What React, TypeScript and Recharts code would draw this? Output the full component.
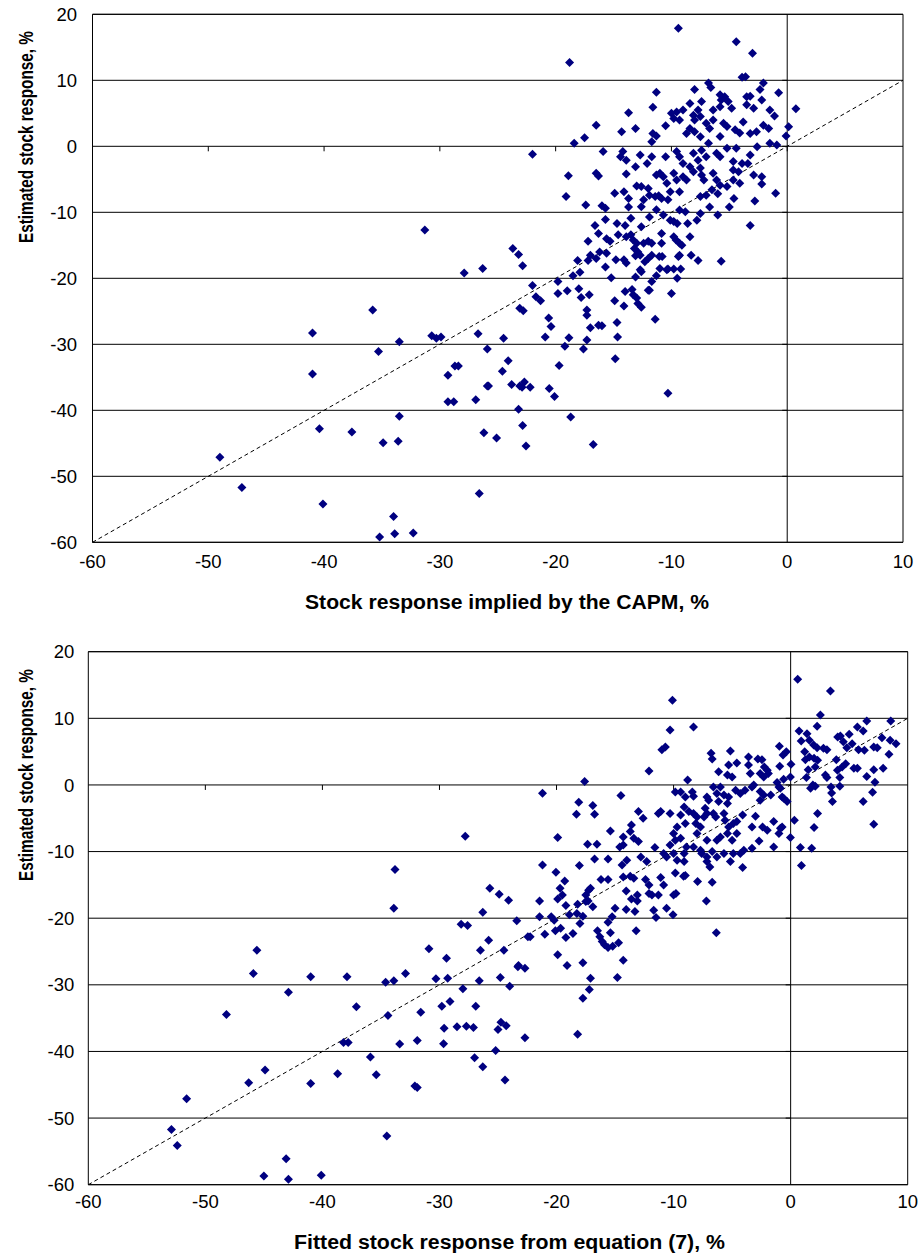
import { ScatterChart, Scatter, XAxis, YAxis, CartesianGrid, ReferenceLine, ReferenceArea } from "recharts"

const FONT = "Arial, 'Liberation Sans', Helvetica, sans-serif"
const NAVY = "#000080"

const xTicks = [-60, -50, -40, -30, -20, -10, 0, 10]
const yTicks = [-60, -50, -40, -30, -20, -10, 0, 10, 20]
const fortyFive = [-60, 10]

// top panel: [CAPM-implied response, estimated response]
const capmPoints: [number, number][] = [
  [-31.3, -12.7], [-27.9, -19.2], [-26.3, -18.5], [-35.8, -24.8], [-41.0, -28.3], [-33.5, -29.6], [-35.3, -31.1],
  [-30.7, -28.7], [-30.3, -29.1], [-29.9, -28.9], [-26.7, -28.4], [-25.9, -30.7], [-41.0, -34.5], [-29.3, -34.7],
  [-28.7, -33.3], [-28.4, -33.3], [-25.9, -36.3], [-26.9, -38.4], [-29.3, -38.7], [-28.8, -38.7], [-33.5, -40.9],
  [-40.4, -42.8], [-37.6, -43.3], [-34.9, -44.9], [-33.6, -44.7], [-26.2, -43.4], [-25.1, -44.2], [-49.0, -47.1],
  [-47.1, -51.7], [-40.1, -54.2], [-26.6, -52.6], [-34.0, -56.1], [-35.2, -59.2], [-33.9, -58.7], [-32.3, -58.6],
  [-19.1, -7.6], [-17.4, -8.9], [-16.0, -9.0], [-15.7, -9.4], [-14.9, -7.1], [-14.1, -6.9], [-13.7, -7.9],
  [-13.7, -9.2], [-13.5, -10.9], [-15.7, -11.1], [-16.6, -12.0], [-16.3, -13.2], [-17.2, -14.4], [-14.7, -11.7],
  [-14.0, -12.0], [-14.6, -13.4], [-13.9, -13.7], [-15.6, -14.0], [-15.3, -14.4], [-16.2, -16.0], [-15.6, -16.2],
  [-17.0, -16.5], [-16.5, -17.0], [-18.1, -17.3], [-17.2, -17.3], [-17.9, -19.1], [-18.5, -19.6], [-15.7, -18.3],
  [-15.2, -19.9], [-14.8, -17.2], [-14.1, -17.2], [-13.9, -17.7], [-13.5, -13.4], [-13.3, -14.2], [-13.0, -14.7],
  [-13.2, -15.5], [-12.9, -16.0], [-12.7, -16.5], [-12.4, -14.7], [-12.0, -14.4], [-11.7, -14.7], [-13.1, -16.6],
  [-12.3, -17.5], [-12.0, -17.0], [-11.7, -16.5], [-12.7, -18.7], [-12.6, -19.0], [-13.1, -19.8], [-11.7, -20.5],
  [-11.9, -21.8], [-11.3, -19.6], [-11.0, -18.5], [-11.05, -16.7], [-10.8, -16.7], [-10.85, -14.7], [-10.4, -18.7],
  [-10.3, -18.6], [-9.8, -18.6], [-9.2, -18.6], [-9.5, -20.0], [-10.0, -22.3], [-9.4, -16.7], [-9.3, -16.5],
  [-8.3, -16.5], [-7.7, -17.3], [-5.7, -17.4], [-9.8, -13.7], [-9.6, -14.2], [-9.3, -14.7], [-9.1, -15.0],
  [-8.4, -13.7], [-8.6, -11.7], [-7.8, -11.2], [-7.5, -10.2], [-6.0, -10.4], [-3.2, -12.0], [-2.8, -8.3],
  [-1.0, -7.1], [-4.6, -7.9], [-5.0, -9.2], [-6.7, -9.2], [-10.1, -11.2], [-9.8, -11.4], [-9.5, -11.7],
  [-10.85, -13.2], [-11.9, -10.7], [-11.3, -9.6], [-12.6, -12.2], [-10.7, -10.4], [-9.3, -9.65], [-8.8, -9.9],
  [-11.4, -7.6], [-10.85, -7.9], [-10.3, -8.1], [-12.4, -8.1], [-12.6, -9.15], [-11.9, -7.4], [-11.1, -7.5],
  [-10.1, -6.9], [-9.3, -6.9], [-7.5, -7.6], [-7.0, -7.4], [-6.0, -7.2],
  [-22.0, -21.1], [-21.7, -22.8], [-21.3, -23.4], [-19.8, -20.5], [-19.8, -22.3], [-19.0, -21.9], [-18.0, -21.6],
  [-17.8, -22.9], [-17.1, -22.5], [-14.9, -23.4], [-14.1, -24.2], [-14.0, -22.0], [-13.4, -21.7], [-13.3, -22.5],
  [-13.0, -23.0], [-12.9, -23.8], [-12.6, -24.4], [-12.0, -21.8], [-11.4, -26.2], [-23.7, -15.5], [-23.2, -16.4],
  [-22.85, -18.1], [-23.1, -24.55], [-22.8, -24.9], [-20.6, -26.0], [-20.4, -27.3], [-20.9, -28.9], [-18.85, -29.0],
  [-19.2, -30.3], [-17.3, -24.8], [-17.3, -25.6], [-17.0, -27.5], [-16.3, -27.1], [-16.0, -27.2], [-17.3, -29.35],
  [-17.6, -30.7], [-14.7, -26.7], [-14.65, -28.9], [-14.85, -32.2], [-24.5, -29.1], [-24.1, -32.5], [-24.6, -34.1],
  [-19.7, -33.2], [-25.8, -36.3], [-23.8, -36.1], [-23.1, -36.3], [-22.7, -35.7], [-22.9, -36.5], [-22.2, -36.5],
  [-20.55, -36.7], [-20.1, -37.9], [-10.3, -37.4], [-23.2, -39.85], [-22.85, -42.3], [-22.56, -45.4], [-18.7, -41.0],
  [-16.75, -45.2], [-22.0, -1.2],
  [-9.4, 17.9], [-18.8, 12.7], [-4.4, 15.85], [-3.0, 14.1], [-3.9, 10.45], [-3.6, 10.55], [-6.8, 9.6],
  [-6.6, 8.9], [-8.0, 8.6], [-11.3, 8.2], [-11.6, 5.9], [-13.7, 5.1], [-16.5, 3.2], [-17.5, 1.3],
  [-18.4, 0.45], [-13.1, 2.7], [-14.3, 2.2], [-11.6, 1.95], [-11.3, 1.55], [-11.7, 0.7], [-10.5, 3.1],
  [-10.0, 5.0], [-9.55, 5.2], [-9.0, 5.5], [-8.4, 6.5], [-9.8, 4.2], [-9.3, 4.0], [-8.1, 4.7],
  [-7.7, 5.5], [-7.4, 6.8], [-8.7, 1.95], [-8.4, 2.7], [-8.0, 2.2], [-8.0, 4.0], [-7.5, 4.5],
  [-6.4, 5.5], [-5.8, 6.0], [-5.7, 7.0], [-5.4, 7.5], [-5.1, 6.8], [-5.8, 7.8], [-7.0, 3.5],
  [-6.7, 2.7], [-6.4, 4.0], [-5.5, 3.5], [-5.2, 3.0], [-5.8, 1.5], [-4.8, 5.75], [-4.5, 2.5],
  [-4.1, 2.0], [-3.8, 3.7], [-3.5, 7.5], [-3.2, 7.6], [-3.5, 6.3], [-2.9, 5.75], [-2.35, 8.6],
  [-2.06, 9.6], [-2.2, 7.0], [-0.74, 8.1], [-1.5, 5.5], [-1.1, 4.6], [-2.06, 3.2], [-1.6, 2.7],
  [-3.2, 1.95], [-2.65, 2.2], [0.12, 2.95], [0.75, 5.7], [-0.1, 1.55], [-1.5, 0.45], [-0.9, 0.2],
  [-2.6, -0.05], [-3.2, -1.3], [-3.4, -2.6], [-2.9, -4.35], [-2.2, -4.6], [-2.2, -5.7], [-4.4, -0.3],
  [-3.9, -2.6], [-4.66, -2.3], [-5.2, -0.3], [-6.1, -1.05], [-5.8, -1.6], [-7.0, -1.6], [-7.4, -0.6],
  [-6.8, 0.45], [-7.5, 1.45], [-8.1, -1.05], [-7.7, -2.1], [-8.4, -3.1], [-7.5, -3.3], [-9.0, -2.6],
  [-9.3, -1.6], [-9.55, -0.8], [-10.5, -1.6], [-11.7, -1.6], [-12.1, -2.6], [-12.7, -1.3], [-13.1, -3.1],
  [-13.9, -4.2], [-14.4, -1.6], [-14.2, -0.8], [-13.9, -2.1], [-15.9, -0.8], [-18.9, -4.45], [-16.5, -4.1],
  [-16.3, -4.5], [-13.0, -6.0], [-12.6, -6.1], [-12.0, -6.4], [-11.3, -4.35], [-11.0, -4.1], [-10.7, -4.6],
  [-10.4, -5.6], [-9.8, -4.1], [-9.55, -5.1], [-9.0, -4.6], [-8.7, -5.1], [-8.1, -3.85], [-7.4, -4.35],
  [-7.2, -5.1], [-6.4, -4.1], [-6.1, -5.1], [-5.8, -5.9], [-6.5, -6.6], [-5.2, -6.1], [-4.66, -5.1],
  [-4.1, -5.6], [-4.66, -3.6], [-4.2, -3.85],
]

// bottom panel: [fitted response from equation (7), estimated response]
const fittedPoints: [number, number][] = [
  [-27.8, -7.7], [-33.8, -12.7], [-33.9, -18.5], [-25.7, -15.5], [-24.9, -16.4], [-24.1, -17.3], [-26.3, -19.1],
  [-23.4, -20.4], [-28.15, -20.9], [-27.6, -21.1], [-25.8, -23.3], [-26.5, -24.8], [-24.5, -24.8], [-23.3, -27.3],
  [-30.9, -24.6], [-29.4, -26.0], [-30.3, -29.1], [-29.3, -29.0], [-26.6, -29.4], [-24.8, -28.9], [-24.0, -30.2],
  [-28.0, -30.6], [-29.8, -33.2], [-29.1, -32.5], [-26.9, -33.2], [-31.6, -34.1], [-29.6, -36.5], [-28.5, -36.3],
  [-27.7, -36.2], [-27.1, -36.4], [-29.65, -38.85], [-25.0, -36.7], [-24.75, -35.6], [-24.3, -36.15], [-25.2, -39.85],
  [-27.0, -40.95], [-26.3, -42.3], [-24.4, -44.3], [-31.9, -38.35], [-33.4, -38.9], [-32.9, -28.3], [-34.6, -29.6],
  [-33.9, -29.4], [-34.4, -34.6], [-37.1, -33.3], [-38.2, -38.65], [-37.8, -38.65], [-35.9, -40.85], [-35.4, -43.5],
  [-38.7, -43.35], [-32.1, -45.2], [-31.9, -45.4], [-41.0, -28.8], [-37.9, -28.8], [-42.9, -31.1], [-45.6, -24.8],
  [-45.9, -28.3], [-48.2, -34.45], [-44.9, -42.8], [-46.3, -44.7], [-41.0, -44.8], [-51.6, -47.1], [-52.9, -51.7],
  [-52.4, -54.1], [-34.5, -52.7], [-43.1, -56.1], [-45.0, -58.7], [-42.9, -59.2], [-40.1, -58.6],
  [-21.2, -1.26], [-19.9, -7.9], [-21.2, -12.0], [-20.05, -13.1], [-19.3, -14.4], [-19.7, -15.5], [-19.5, -16.5],
  [-19.9, -17.1], [-19.2, -18.1], [-21.45, -17.4], [-20.45, -19.8], [-20.2, -20.3], [-21.0, -22.4], [-20.1, -21.9],
  [-19.65, -21.5], [-19.2, -22.9], [-18.6, -22.3], [-18.9, -19.5], [-18.26, -19.3], [-18.2, -17.9], [-18.0, -20.8],
  [-17.75, -19.7], [-17.5, -16.5], [-17.26, -15.8], [-17.1, -15.5], [-17.5, -17.5], [-17.3, -17.4], [-16.9, -18.3],
  [-16.2, -14.2], [-15.6, -14.2], [-16.5, -21.9], [-16.3, -22.8], [-16.1, -23.5], [-15.9, -24.0], [-15.6, -24.4],
  [-15.2, -24.2], [-15.4, -22.2], [-14.7, -23.7], [-15.6, -20.6], [-15.25, -19.8], [-15.0, -18.5], [-14.05, -18.7],
  [-14.05, -15.9], [-13.6, -17.1], [-13.1, -16.5], [-13.1, -17.4], [-13.3, -19.0], [-13.2, -21.9], [-14.3, -26.3],
  [-14.8, -28.9], [-14.3, -13.8], [-13.7, -13.7], [-13.4, -14.0], [-12.4, -14.2], [-12.1, -15.0], [-12.1, -16.3],
  [-11.85, -16.5], [-11.3, -16.5], [-11.7, -18.8], [-11.5, -19.9], [-11.1, -13.9], [-10.85, -15.0], [-10.6, -18.5],
  [-10.05, -19.5], [-10.0, -16.5], [-9.8, -16.3], [-9.85, -13.2], [-9.15, -13.7], [-9.0, -13.6], [-7.95, -14.5],
  [-7.2, -17.4], [-6.7, -14.6], [-6.35, -22.2], [-6.9, -12.3],
  [-22.45, -22.8], [-22.25, -22.8], [-21.45, -19.8], [-23.25, -27.1], [-22.7, -27.5], [-19.9, -25.5], [-19.1, -27.1],
  [-17.75, -26.7], [-17.1, -29.0], [-17.2, -30.7], [-17.75, -32.0], [-22.7, -37.95], [-18.2, -37.4],
  [0.6, 15.85], [3.4, 14.1], [-10.1, 12.7], [2.54, 10.5], [2.26, 8.8], [6.5, 9.6], [8.55, 9.6],
  [-8.3, 8.7], [-10.3, 8.25], [-11.0, 5.3], [-10.7, 5.7], [-12.1, 2.1], [-17.6, 0.5], [-14.5, -1.6],
  [-18.1, -2.6], [-18.3, -4.4], [-16.9, -3.1], [-16.75, -4.4], [-15.4, -6.9], [-17.35, -8.9], [-16.55, -8.9],
  [-18.05, -12.1], [-16.75, -11.1], [-15.6, -11.1],
  [0.72, 8.1], [1.4, 7.7], [0.9, 6.6], [1.6, 6.7], [1.97, 6.0], [2.26, 5.6], [2.8, 5.5],
  [3.1, 5.3], [1.2, 5.0], [1.26, 3.8], [1.6, 4.2], [2.0, 4.0], [2.3, 3.7], [1.5, 2.3],
  [2.1, 2.7], [1.35, 1.1], [2.97, 1.5], [3.1, 1.1], [1.9, 0.0], [2.1, -0.2], [1.7, -0.5],
  [3.45, -0.3], [3.5, -1.2], [3.57, -2.5], [4.2, -0.2], [4.2, 1.1], [3.9, 3.8], [4.0, 2.2],
  [4.4, 2.7], [4.7, 3.2], [4.02, 7.2], [4.25, 7.35], [4.5, 6.5], [4.8, 5.6], [5.0, 7.6],
  [5.25, 6.2], [5.7, 8.7], [6.2, 8.1], [5.8, 5.3], [6.3, 5.2], [5.4, 2.5], [5.7, 2.5],
  [6.5, 1.25], [7.1, 5.7], [7.4, 5.6], [7.8, 7.1], [8.5, 6.7], [9.0, 6.2], [8.4, 4.6],
  [7.9, 2.5], [7.1, 2.3], [7.2, 0.4], [7.0, -1.1], [6.2, -2.5], [7.1, -5.9], [2.3, -4.3],
  [2.0, -6.4], [0.83, -9.4], [1.8, -9.5], [0.92, -12.1], [0.32, -5.3], [-0.02, -7.9],
  [-0.96, 5.8], [-0.65, 4.5], [-0.37, 5.0], [0.03, 3.1], [-0.93, 2.8], [-0.02, 1.2], [-0.6, 0.85],
  [-1.16, 0.35], [-0.88, -0.5], [-0.6, -2.0], [-0.3, -2.5], [-1.45, -5.5], [-0.73, -6.3], [-1.0, -7.3],
  [-0.87, -6.5], [-1.45, -9.3],
  [-2.8, 3.9], [-2.45, 3.8], [-2.25, 2.7], [-2.0, 2.2], [-1.9, 1.7], [-2.6, 1.7], [-2.3, 1.2],
  [-3.6, 4.2], [-3.6, 3.0], [-3.45, 1.7], [-4.6, 3.3], [-5.3, 3.0], [-5.15, 5.1], [-6.8, 4.75],
  [-6.7, 3.9], [-5.4, 1.5], [-5.0, 1.2], [-6.15, 2.0], [-3.15, 0.0], [-3.3, -0.3], [-3.9, -0.8],
  [-4.3, -1.3], [-2.6, -1.0], [-2.3, -1.5], [-1.7, -1.5], [-2.6, -2.3], [-1.0, -0.3], [-0.73, -1.8],
  [-3.0, -4.7], [-3.3, -6.3], [-2.4, -6.3], [-2.0, -6.8], [-2.7, -8.4], [-3.3, -9.5],
  [-4.0, -9.8], [-4.3, -10.3], [-4.1, -12.4], [-5.15, -11.5], [-4.9, -10.3], [-4.7, -0.8], [-5.3, -1.8],
  [-5.7, -1.5], [-6.3, -1.3], [-6.6, -0.3], [-6.0, -0.3], [-7.15, -1.8], [-7.0, -2.3], [-6.15, -2.5],
  [-5.4, -2.8], [-8.3, -1.7], [-8.4, -1.05], [-9.0, -1.8], [-9.4, -1.05], [-9.85, -1.05], [-8.8, 0.75],
  [-9.1, -3.3], [-8.7, -4.0], [-8.3, -4.3], [-8.0, -4.8], [-7.3, -3.5], [-7.15, -4.3], [-7.4, -4.8],
  [-6.6, -4.3], [-6.4, -4.8], [-5.7, -4.3], [-5.6, -5.3], [-5.3, -6.3], [-4.9, -5.8], [-4.6, -5.5],
  [-4.1, -4.5], [-9.4, -4.5], [-9.0, -5.8], [-8.1, -5.8], [-8.0, -7.3], [-7.7, -6.3], [-9.7, -6.3],
  [-10.0, -7.3], [-9.85, -8.3], [-9.4, -8.0], [-11.1, -4.0], [-10.3, -4.3], [-11.3, -4.3], [-13.0, -4.0],
  [-12.6, -5.0], [-13.6, -6.0], [-13.7, -7.0], [-14.3, -7.8], [-14.6, -9.3], [-14.3, -9.0], [-13.4, -8.0],
  [-13.0, -8.5], [-11.6, -9.4], [-10.85, -10.3], [-10.3, -9.0], [-10.0, -10.3], [-8.9, -9.3], [-9.1, -10.3],
  [-8.3, -9.3], [-7.7, -9.8], [-7.15, -8.3], [-6.3, -8.3], [-6.0, -7.8], [-5.4, -7.3], [-5.0, -8.3],
  [-4.6, -7.3], [-7.6, -10.3], [-7.15, -10.8], [-6.7, -10.0], [-6.3, -10.8], [-5.7, -10.3], [-14.0, -11.3],
  [-14.4, -12.0], [-12.8, -10.8], [-12.3, -11.5], [-10.6, -10.8], [-9.7, -11.3], [-9.1, -11.5], [-7.15, -11.5],
]

const yTitle = "Estimated stock response, %"
const topXTitle = "Stock response implied by the CAPM, %"
const bottomXTitle = "Fitted stock response from equation (7), %"

const Diamond = (props: any) => {
  const { cx, cy } = props
  if (cx == null || cy == null) return null
  const r = 4.5
  return <path d={`M${cx} ${cy - r}L${cx + r} ${cy}L${cx} ${cy + r}L${cx - r} ${cy}Z`} fill={NAVY} />
}

const Title = ({ px, py, len, text, vertical }: any) => (
  <text
    x={px}
    y={py}
    textAnchor="middle"
    fontFamily={FONT}
    fontWeight="bold"
    fontSize={20}
    fill="#000"
    textLength={len}
    lengthAdjust="spacingAndGlyphs"
    transform={vertical ? `rotate(-90 ${px} ${py})` : undefined}
  >
    {text}
  </text>
)

type PanelProps = {
  points: [number, number][]
  xTitle: string
  top: number
  plotLeft: number
  plotRight: number
  plotTop: number
  plotBottom: number
  yGap: number
  xGap: number
  xTitlePos: [number, number, number]
  yTitlePos: [number, number, number]
}

const W = 919
const H = 628

function Panel(p: PanelProps) {
  const data = p.points.map(([x, y]) => ({ x, y }))
  const plotW = p.plotRight - p.plotLeft
  const plotH = p.plotBottom - p.plotTop
  const axisH = 70
  // 5px tick marks on the crossing axes, expressed in data units
  const xTickLen = (5 * 80) / plotH
  const yTickLen = (5 * 70) / plotW
  return (
    <div style={{ position: "absolute", left: 0, top: p.top }}>
      <ScatterChart
        width={W}
        height={H}
        margin={{ top: p.plotTop, right: W - p.plotRight, left: 0, bottom: H - p.plotBottom - axisH }}
      >
        <CartesianGrid horizontal vertical={false} stroke="#000" strokeWidth={1} />
        <XAxis
          type="number"
          dataKey="x"
          domain={[-60, 10]}
          ticks={xTicks}
          interval={0}
          axisLine={false}
          tickLine={false}
          tickSize={0}
          tickMargin={p.xGap}
          height={axisH}
          tick={{ fill: "#000", fontSize: 18.5, fontFamily: FONT }}
          label={<Title px={p.xTitlePos[0]} py={p.xTitlePos[1]} len={p.xTitlePos[2]} text={p.xTitle} />}
        />
        <YAxis
          type="number"
          dataKey="y"
          domain={[-60, 20]}
          ticks={yTicks}
          interval={0}
          axisLine={false}
          tickLine={false}
          tickSize={0}
          tickMargin={p.yGap}
          width={p.plotLeft}
          tick={{ fill: "#000", fontSize: 18.5, fontFamily: FONT }}
          label={<Title px={p.yTitlePos[0]} py={p.yTitlePos[1]} len={p.yTitlePos[2]} text={yTitle} vertical />}
        />
        <ReferenceArea x1={-60} x2={10} y1={-60} y2={20} fill="none" stroke="#000" strokeWidth={1} fillOpacity={0} />
        <ReferenceLine x={0} stroke="#000" strokeWidth={1} />
        {xTicks.slice(1, -1).map((t) => (
          <ReferenceLine key={`xt${t}`} segment={[{ x: t, y: 0 }, { x: t, y: -xTickLen }]} stroke="#000" />
        ))}
        {yTicks.slice(1, -1).map((t) => (
          <ReferenceLine key={`yt${t}`} segment={[{ x: 0, y: t }, { x: -yTickLen, y: t }]} stroke="#000" />
        ))}
        <ReferenceLine
          segment={[{ x: fortyFive[0], y: fortyFive[0] }, { x: fortyFive[1], y: fortyFive[1] }]}
          stroke="#000"
          strokeWidth={1}
          strokeDasharray="4 3"
        />
        <Scatter data={data} shape={<Diamond />} isAnimationActive={false} />
      </ScatterChart>
    </div>
  )
}

export default function App() {
  return (
    <div style={{ position: "absolute", left: 0, top: 0, width: W, height: 1256, background: "#fff" }}>
      <Panel
        points={capmPoints}
        xTitle={topXTitle}
        top={0}
        plotLeft={92.5}
        plotRight={903}
        plotTop={14.3}
        plotBottom={542.3}
        yGap={15.5}
        xGap={12.7}
        xTitlePos={[507, 609, 404]}
        yTitlePos={[33, 137, 212]}
      />
      <Panel
        points={fittedPoints}
        xTitle={bottomXTitle}
        top={628}
        plotLeft={88.3}
        plotRight={907.7}
        plotTop={23.7}
        plotBottom={556.7}
        yGap={14}
        xGap={10.3}
        xTitlePos={[509.5, 621, 431]}
        yTitlePos={[33, 147, 212]}
      />
    </div>
  )
}
